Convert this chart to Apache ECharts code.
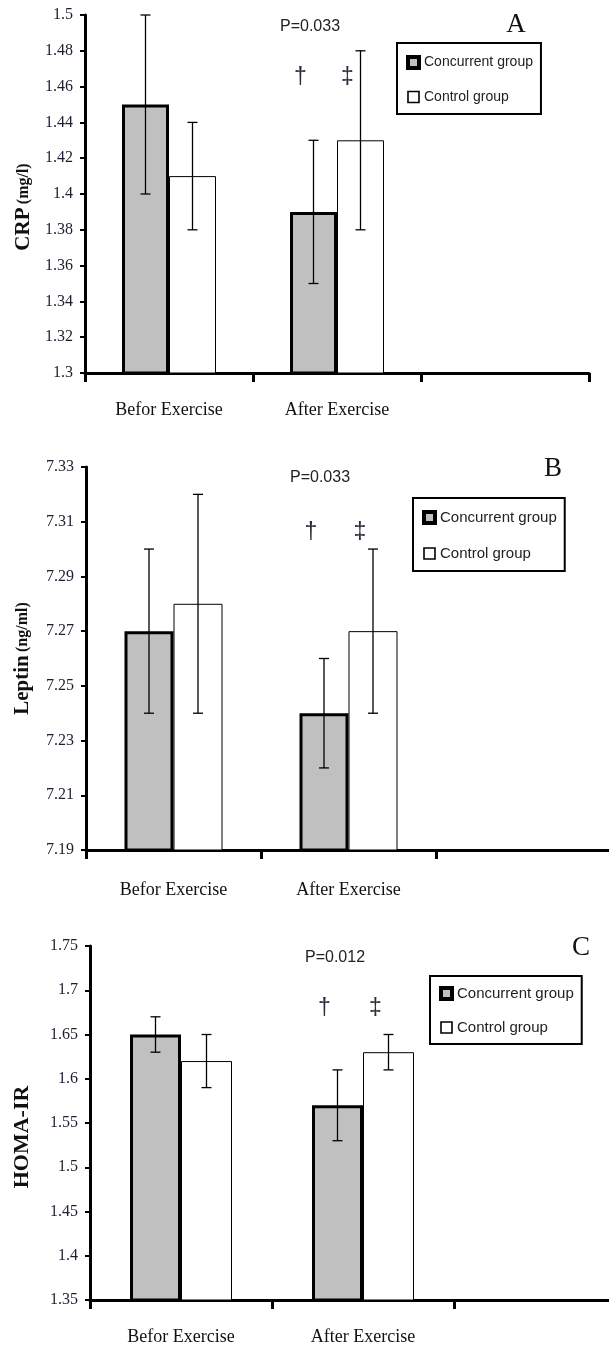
<!DOCTYPE html>
<html><head><meta charset="utf-8">
<script src="https://cdn.jsdelivr.net/npm/echarts@6/dist/echarts.min.js"></script>
<style>html,body{margin:0;padding:0;background:#fff}#c{width:609px;height:1346px}</style>
</head><body><div id="c"></div>
<script>
// ---------- data ----------
const categories = ['Befor Exercise', 'After Exercise', ''];
const seriesNames = ['Concurrent group', 'Control group'];

// Panel A: CRP (mg/l)
const crpConcurrent = [1.45, 1.39];
const crpConcurrentErr = [0.05, 0.04];
const crpControl = [1.41, 1.43];
const crpControlErr = [0.03, 0.05];

// Panel B: Leptin (ng/ml)
const leptinConcurrent = [7.27, 7.24];
const leptinConcurrentErr = [0.03, 0.02];
const leptinControl = [7.28, 7.27];
const leptinControlErr = [0.04, 0.03];

// Panel C: HOMA-IR
const homaConcurrent = [1.65, 1.57];
const homaConcurrentErr = [0.02, 0.04];
const homaControl = [1.62, 1.63];
const homaControlErr = [0.03, 0.02];

// axis ranges / ticks
const crpTicks = [1.3, 1.32, 1.34, 1.36, 1.38, 1.4, 1.42, 1.44, 1.46, 1.48, 1.5];
const leptinTicks = [7.19, 7.21, 7.23, 7.25, 7.27, 7.29, 7.31, 7.33];
const homaTicks = [1.35, 1.4, 1.45, 1.5, 1.55, 1.6, 1.65, 1.7, 1.75];

const pValues = ['P=0.033', 'P=0.033', 'P=0.012'];
const panelLetters = ['A', 'B', 'C'];
const daggerLevels = [1.465, 7.306, 1.679];
const yTitleMain = ['CRP', 'Leptin', 'HOMA-IR'];
const yTitleUnit = ['(mg/l)', '(ng/ml)', ''];

// ---------- layout (styles only) ----------
const SERIF = "'Liberation Serif','Times New Roman',serif";
const SANS = "'Liberation Sans',Arial,sans-serif";
const panels = [
  {grid:{left:85, top:15, width:504, height:358}, bw:47, ticks:crpTicks,
   conc:crpConcurrent, concErr:crpConcurrentErr, ctrl:crpControl, ctrlErr:crpControlErr,
   legend:{left:397, top:43, fs:14, gap:20, pad:[12,8,10,9]}, p:[310,27], letter:[516,25], xMargin:28, nameGap:50, namePad:[0,26,0,0]},
  {grid:{left:86, top:467, width:525, height:383}, bw:49, ticks:leptinTicks,
   conc:leptinConcurrent, concErr:leptinConcurrentErr, ctrl:leptinControl, ctrlErr:leptinControlErr,
   legend:{left:413, top:498, fs:15, gap:21, pad:[12,8,10,9]}, p:[320,478], letter:[553,469], xMargin:31, nameGap:53, namePad:[0,0,0,0]},
  {grid:{left:90, top:946, width:546, height:354}, bw:51, ticks:homaTicks,
   conc:homaConcurrent, concErr:homaConcurrentErr, ctrl:homaControl, ctrlErr:homaControlErr,
   legend:{left:430, top:976, fs:15, gap:19, pad:[10,8,9,9]}, p:[335,958], letter:[581,948], xMargin:28, nameGap:57, namePad:[0,28,0,0]}
];

function errorSeries(gi, vals, errs, side, bw) {
  const data = vals.map((v, i) => [i, v - errs[i], v + errs[i]]);
  return {
    type: 'custom', xAxisIndex: gi, yAxisIndex: gi, z: 6, silent: true,
    encode: {x: 0, y: [1, 2]},
    renderItem: function (params, api) {
      const lo = api.coord([api.value(0), api.value(1)]);
      const hi = api.coord([api.value(0), api.value(2)]);
      const x = lo[0] + side * bw / 2;
      const cap = 5;
      const st = {stroke: '#000', lineWidth: 1.3};
      return {type: 'group', children: [
        {type: 'line', shape: {x1: x, y1: lo[1], x2: x, y2: hi[1]}, style: st},
        {type: 'line', shape: {x1: x - cap, y1: hi[1], x2: x + cap, y2: hi[1]}, style: st},
        {type: 'line', shape: {x1: x - cap, y1: lo[1], x2: x + cap, y2: lo[1]}, style: st}
      ]};
    },
    data: data
  };
}

function dagger(gi, sym, level) {
  return {
    symbol: 'rect', symbolSize: 1, silent: true,
    itemStyle: {color: 'rgba(0,0,0,0)', borderWidth: 0},
    label: {show: true, position: 'inside', offset: [-13, 0], formatter: sym,
            fontSize: 23, fontFamily: SANS, color: '#2a2a3a'},
    data: [{coord: [1, level]}]
  };
}

const grids = [], xAxes = [], yAxes = [], series = [], legends = [], graphics = [];
panels.forEach((P, gi) => {
  grids.push(Object.assign({containLabel: false, outerBoundsMode: 'none'}, P.grid));
  xAxes.push({
    type: 'category', gridIndex: gi, data: categories, boundaryGap: true,
    axisLine: {lineStyle: {color: '#000', width: 3}},
    axisTick: {show: true, interval: 0, length: 9, lineStyle: {color: '#000', width: 3}},
    axisLabel: {interval: 0, margin: P.xMargin, fontFamily: SERIF, fontSize: 18, color: '#111'},
    splitLine: {show: false}
  });
  const t = P.ticks;
  yAxes.push({
    type: 'value', gridIndex: gi, min: t[0], max: t[t.length - 1],
    interval: +(t[1] - t[0]).toFixed(4),
    name: yTitleUnit[gi] ? '{a|' + yTitleMain[gi] + '} {b|' + yTitleUnit[gi] + '}' : '{a|' + yTitleMain[gi] + '}',
    nameLocation: 'middle', nameGap: P.nameGap,
    nameTextStyle: {padding: P.namePad, rich: {
      a: {fontFamily: SERIF, fontWeight: 'bold', fontSize: gi === 2 ? 22 : 21, color: '#111'},
      b: {fontFamily: SERIF, fontWeight: 'bold', fontSize: 16, color: '#111'}
    }},
    axisLine: {show: true, lineStyle: {color: '#000', width: 3}},
    axisTick: {show: true, length: 5, lineStyle: {color: '#000', width: 2}},
    axisLabel: {margin: 12, fontFamily: SERIF, fontSize: 16, color: '#1e1e30'},
    splitLine: {show: false}
  });
  series.push({
    name: seriesNames[0], type: 'bar', xAxisIndex: gi, yAxisIndex: gi,
    data: P.conc, barWidth: P.bw, barGap: '0%', z: 3,
    itemStyle: {color: '#c0c0c0', borderColor: '#000', borderWidth: 3},
    markPoint: dagger(gi, '†', daggerLevels[gi])
  });
  series.push({
    name: seriesNames[1], type: 'bar', xAxisIndex: gi, yAxisIndex: gi,
    data: P.ctrl, barWidth: P.bw, barGap: '0%', z: 2,
    itemStyle: {color: '#ffffff', borderColor: '#000', borderWidth: 1},
    markPoint: dagger(gi, '‡', daggerLevels[gi])
  });
  series.push(errorSeries(gi, P.conc, P.concErr, -1, P.bw));
  series.push(errorSeries(gi, P.ctrl, P.ctrlErr, 1, P.bw));
  legends.push({
    data: [
      {name: seriesNames[0], itemStyle: {color: '#c0c0c0', borderColor: '#000', borderWidth: 4}},
      {name: seriesNames[1], itemStyle: {color: '#fff', borderColor: '#000', borderWidth: 1.6}}
    ],
    orient: 'vertical', left: P.legend.left, top: P.legend.top,
    padding: P.legend.pad, itemGap: P.legend.gap, itemWidth: 11, itemHeight: 11,
    icon: 'rect', selectedMode: false, borderColor: '#000', borderWidth: 2,
    textStyle: {fontFamily: SANS, fontSize: P.legend.fs, color: '#222'}
  });
  graphics.push({type: 'text', x: P.p[0], y: P.p[1], silent: true,
    style: {text: pValues[gi], fontFamily: SANS, fontSize: 16, fill: '#222', align: 'center', verticalAlign: 'middle'}});
  graphics.push({type: 'text', x: P.letter[0], y: P.letter[1], silent: true,
    style: {text: panelLetters[gi], fontFamily: SERIF, fontSize: 27, fill: '#111', align: 'center', verticalAlign: 'middle'}});
});

const chart = echarts.init(document.getElementById('c'), null, {renderer: 'canvas'});
chart.setOption({
  animation: false,
  backgroundColor: '#ffffff',
  grid: grids, xAxis: xAxes, yAxis: yAxes, series: series, legend: legends, graphic: graphics
});
</script>
</body></html>
